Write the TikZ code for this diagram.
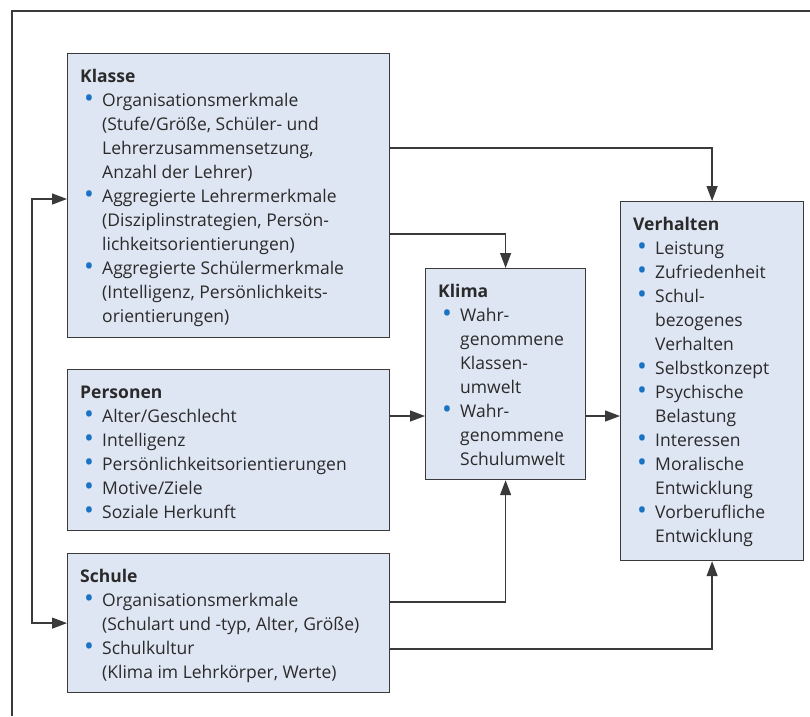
\documentclass[tikz,border=0pt]{standalone}
\usepackage{fontspec}
\setmainfont{Open Sans}
\usetikzlibrary{arrows.meta,calc}
\definecolor{boxfill}{HTML}{DFE6F3}
\definecolor{bulblue}{HTML}{1A72C4}
\definecolor{linegray}{HTML}{3A3A3A}
\definecolor{txt}{HTML}{2A2A2A}
\newcommand\hd[1]{\rule{0pt}{14pt}\textbf{#1}}
\newcommand\bi[1]{\hspace*{4pt}\makebox[18pt][l]{\raisebox{-1.2pt}{\textcolor{bulblue}{\scalebox{1.5}{\textbullet}}}}#1}
\newcommand\ci[1]{\hspace*{22pt}#1}
\begin{document}
\begin{tikzpicture}[x=1pt,y=-1pt,
  >={Triangle[length=15pt,width=11pt]},
  box/.style={draw=linegray, line width=1.2pt, fill=boxfill, rectangle, inner sep=0pt, anchor=north west},
  txtnode/.style={anchor=north west, inner sep=0pt, align=left, text=txt, font=\fontsize{17.5}{24}\selectfont},
  conn/.style={draw=linegray, line width=1.3pt, ->}]
\useasboundingbox (0,0) rectangle (810,716);
\draw[linegray, line width=1.2pt] (12,716) -- (12,11) -- (810,11);
% boxes
\node[box, minimum width=322, minimum height=284] (klasse) at (67,53) {};
\node[box, minimum width=322, minimum height=161] (personen) at (67,369) {};
\node[box, minimum width=322, minimum height=139] (schule) at (67,553) {};
\node[box, minimum width=160, minimum height=211] (klima) at (425,268) {};
\node[box, minimum width=183, minimum height=359] (verhalten) at (620,201) {};
% texts
\node[txtnode] (klasseT) at ($(klasse.north west)+(13,15)$) {\hd{Klasse}\\
\bi{Organisationsmerkmale}\\
\ci{(Stufe/Größe, Schüler- und}\\
\ci{Lehrerzusammensetzung,}\\
\ci{Anzahl der Lehrer)}\\
\bi{Aggregierte Lehrermerkmale}\\
\ci{(Disziplinstrategien, Persön-}\\
\ci{lichkeitsorientierungen)}\\
\bi{Aggregierte Schülermerkmale}\\
\ci{(Intelligenz, Persönlichkeits-}\\
\ci{orientierungen)}};
\node[txtnode] (personenT) at ($(personen.north west)+(13,15)$) {\hd{Personen}\\
\bi{Alter/Geschlecht}\\
\bi{Intelligenz}\\
\bi{Persönlichkeitsorientierungen}\\
\bi{Motive/Ziele}\\
\bi{Soziale Herkunft}};
\node[txtnode] (schuleT) at ($(schule.north west)+(13,15)$) {\hd{Schule}\\
\bi{Organisationsmerkmale}\\
\ci{(Schulart und -typ, Alter, Größe)}\\
\bi{Schulkultur}\\
\ci{(Klima im Lehrkörper, Werte)}};
\node[txtnode] (klimaT) at ($(klima.north west)+(13,15)$) {\hd{Klima}\\
\bi{Wahr-}\\
\ci{genommene}\\
\ci{Klassen-}\\
\ci{umwelt}\\
\bi{Wahr-}\\
\ci{genommene}\\
\ci{Schulumwelt}};
\node[txtnode] (verhaltenT) at ($(verhalten.north west)+(13,15)$) {\hd{Verhalten}\\
\bi{Leistung}\\
\bi{Zufriedenheit}\\
\bi{Schul-}\\
\ci{bezogenes}\\
\ci{Verhalten}\\
\bi{Selbstkonzept}\\
\bi{Psychische}\\
\ci{Belastung}\\
\bi{Interessen}\\
\bi{Moralische}\\
\ci{Entwicklung}\\
\bi{Vorberufliche}\\
\ci{Entwicklung}};
% connectors
\coordinate (kv0) at ($(klasse.north east)+(0,95)$);
\coordinate (kk0) at ($(klasse.north east)+(0,181)$);
\coordinate (pk) at ($(personen.north east)+(0,47)$);
\coordinate (kv) at ($(klima.north east)+(0,148)$);
\coordinate (sk) at ($(schule.north east)+(0,49)$);
\coordinate (sv) at ($(schule.north east)+(0,96)$);
\coordinate (ka) at ($(klasse.north west)+(0,146)$);
\draw[conn] (kv0) -| (verhalten.north);
\draw[conn] (kk0) -| (klima.north);
\draw[conn] (pk) -- (pk -| klima.west);
\draw[conn] (kv) -- (kv -| verhalten.west);
\draw[conn] (sk) -| (klima.south);
\draw[conn] (sv) -| (verhalten.south);
\draw[conn,<->] (ka) -- ++(-35,0) |- (schule.west);
\end{tikzpicture}
\end{document}
